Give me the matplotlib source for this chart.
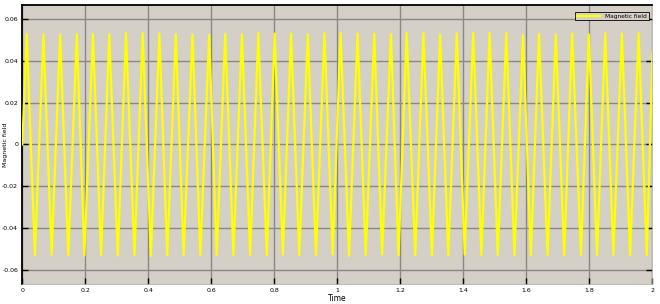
import matplotlib
matplotlib.use("Agg")
import matplotlib.pyplot as plt

peak_t = [0.014, 0.067, 0.120, 0.173, 0.224, 0.276, 0.329, 0.382, 0.435, 0.487,
          0.540, 0.593, 0.644, 0.697, 0.749, 0.801, 0.853, 0.906, 0.959, 1.010,
          1.064, 1.117, 1.170, 1.220, 1.273, 1.326, 1.379, 1.431, 1.483, 1.536,
          1.589, 1.640, 1.693, 1.745, 1.798, 1.850, 1.903, 1.956]
peak_v = [0.0528, 0.0527, 0.0526, 0.0529, 0.0530, 0.0528, 0.0534, 0.0533, 0.0532, 0.0528,
          0.0527, 0.0526, 0.0530, 0.0529, 0.0533, 0.0532, 0.0531, 0.0527, 0.0533, 0.0534,
          0.0532, 0.0531, 0.0529, 0.0534, 0.0533, 0.0527, 0.0532, 0.0534, 0.0534, 0.0533,
          0.0524, 0.0530, 0.0527, 0.0532, 0.0528, 0.0533, 0.0532, 0.0533]
trough_t = [0.040, 0.093, 0.146, 0.197, 0.250, 0.303, 0.356, 0.408, 0.460, 0.512,
            0.565, 0.617, 0.670, 0.723, 0.776, 0.827, 0.879, 0.932, 0.985, 1.037,
            1.090, 1.142, 1.194, 1.247, 1.300, 1.352, 1.404, 1.457, 1.509, 1.562,
            1.614, 1.667, 1.720, 1.773, 1.824, 1.876, 1.929, 1.982]
trough_v = [-0.0530, -0.0528, -0.0530, -0.0532, -0.0530, -0.0533, -0.0531, -0.0534, -0.0531, -0.0530,
            -0.0529, -0.0530, -0.0531, -0.0530, -0.0532, -0.0528, -0.0531, -0.0530, -0.0527, -0.0534,
            -0.0531, -0.0528, -0.0532, -0.0530, -0.0531, -0.0532, -0.0528, -0.0531, -0.0530, -0.0531,
            -0.0532, -0.0530, -0.0531, -0.0529, -0.0530, -0.0529, -0.0531, -0.0531]
start = (0.0, 0.0)
end = (2.0, 0.044)

xticks = [0, 0.2, 0.4, 0.6, 0.8, 1.0, 1.2, 1.4, 1.6, 1.8, 2.0]
xtick_labels = ['0', '0.2', '0.4', '0.6', '0.8', '1', '1.2', '1.4', '1.6', '1.8', '2']
yticks = [-0.06, -0.04, -0.02, 0, 0.02, 0.04, 0.06]
ytick_labels = ['-0.06', '-0.04', '-0.02', '0', '0.02', '0.04', '0.06']

# put the turning points in time order
t = [start[0]]
b = [start[1]]
for i in range(len(peak_t)):
    t += [peak_t[i], trough_t[i]]
    b += [peak_v[i], trough_v[i]]
t.append(end[0])
b.append(end[1])

fig = plt.figure(figsize=(6.6, 3.04), dpi=100, facecolor='white')
ax = fig.add_axes([0.0338, 0.065, 0.9548, 0.9195])
ax.set_facecolor('#d4d0c8')

ax.plot(t, b, color='#ffff00', lw=1.6, label='Magnetic field', zorder=3,
        solid_joinstyle='round')

ax.set_xlim(0, 2)
ax.set_ylim(-0.067, 0.067)
ax.set_xticks(xticks)
ax.set_xticklabels(xtick_labels)
ax.set_yticks(yticks)
ax.set_yticklabels(ytick_labels)
ax.grid(True, color='#8a8884', lw=1.0)
ax.set_axisbelow(True)
ax.tick_params(direction='in', length=4, width=1, labelsize=4.5, pad=3,
               right=True, top=False, colors='black')
for side in ['left', 'top']:
    ax.spines[side].set_linewidth(1.3)
for side in ['bottom', 'right']:
    ax.spines[side].set_linewidth(0.5)
    ax.spines[side].set_color('#a0a0a0')

ax.set_xlabel('Time', fontsize=5.5, labelpad=0.5)
ax.set_ylabel('Magnetic field', fontsize=4.5)
ax.yaxis.set_label_coords(-0.022, 0.5)

leg = ax.legend(loc='upper right', fontsize=4.2, frameon=True, fancybox=False,
                borderpad=0.3, handlelength=4, bbox_to_anchor=(0.9985, 0.985))
leg.get_frame().set_facecolor('#d4d0c8')
leg.get_frame().set_edgecolor('black')
leg.get_frame().set_linewidth(0.6)
leg.get_frame().set_alpha(1)

plt.savefig('out.png', dpi=100, facecolor=fig.get_facecolor())
